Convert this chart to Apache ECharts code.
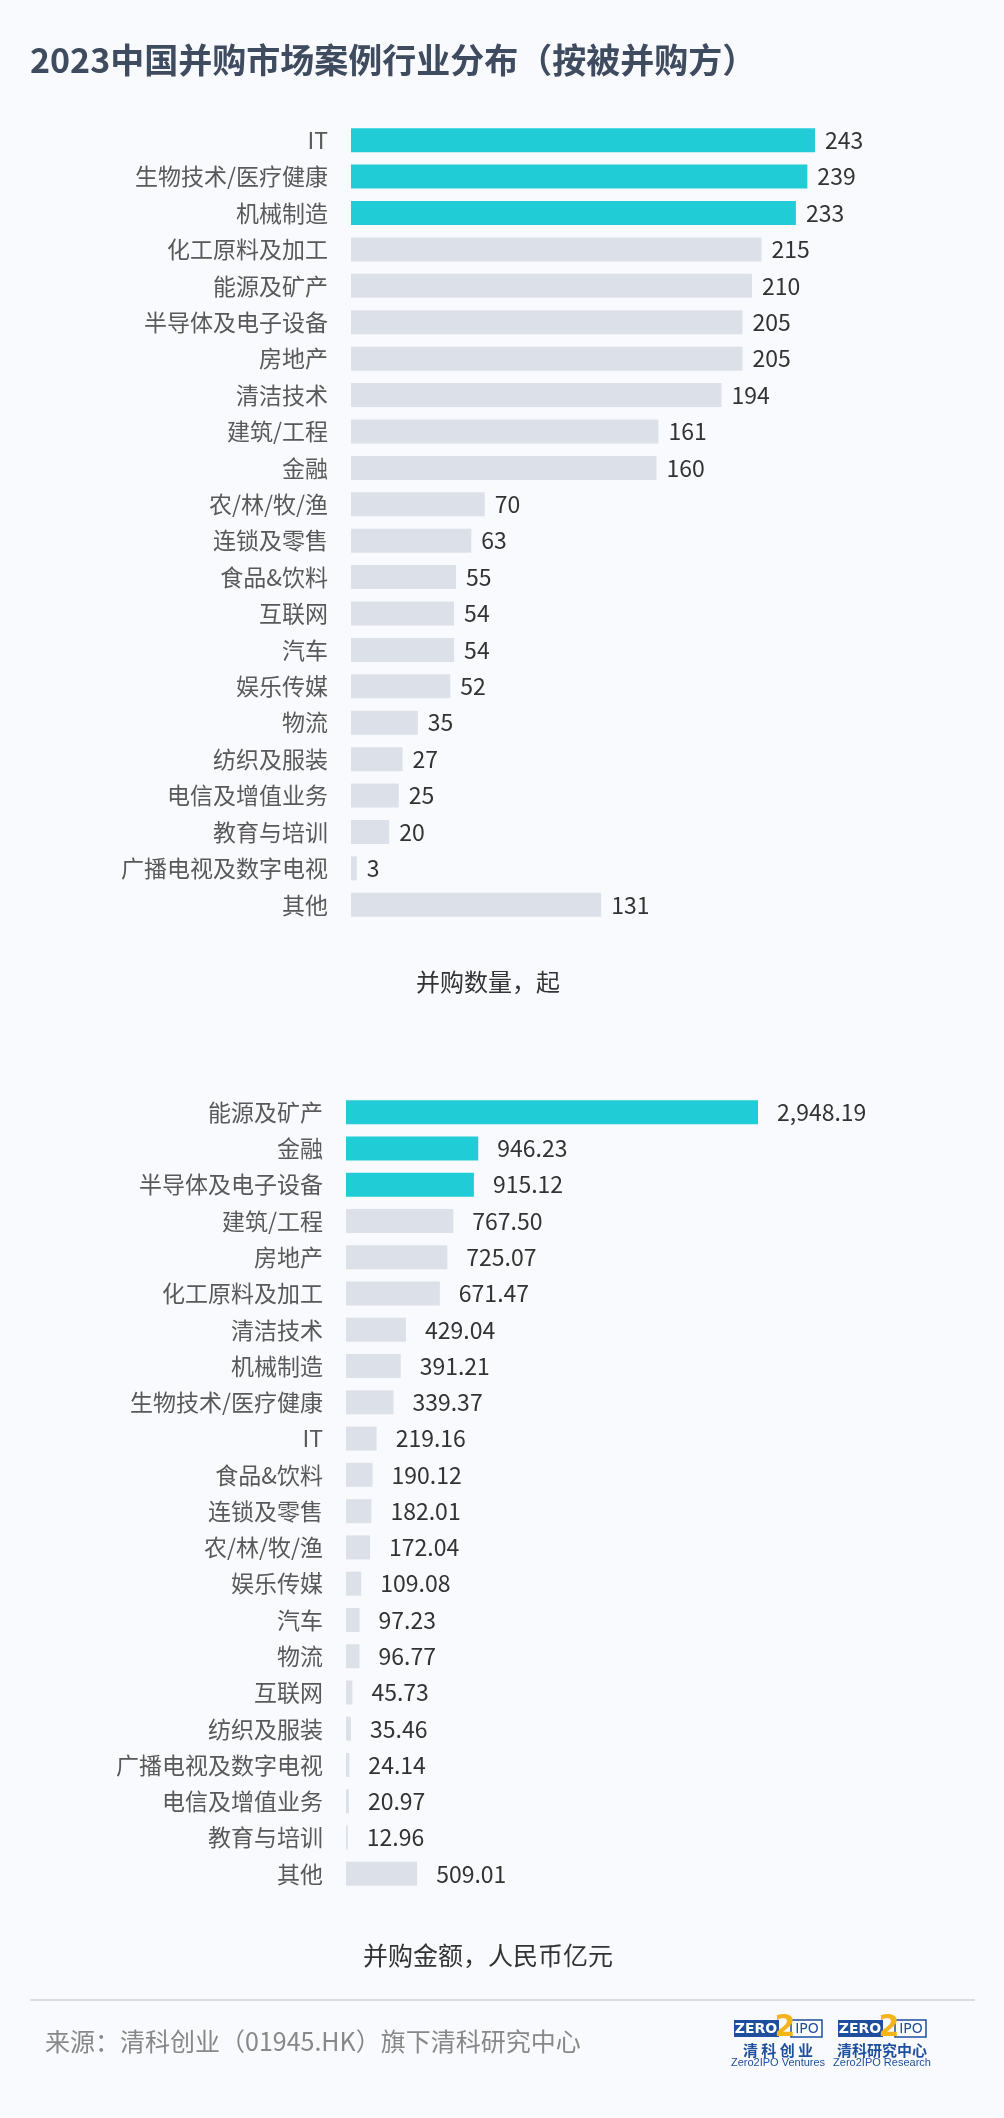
<!DOCTYPE html>
<html>
<head>
<meta charset="utf-8">
<script src="https://cdn.jsdelivr.net/npm/echarts@6/dist/echarts.min.js"></script>
<style>
html,body{margin:0;padding:0;background:#F9FAFD;}
#c{width:1004px;height:2118px;}
</style>
</head>
<body>
<div id="c"></div>
<script>
const titleText = '2023中国并购市场案例行业分布（按被并购方）';
const categories1 = ['IT','生物技术/医疗健康','机械制造','化工原料及加工','能源及矿产','半导体及电子设备','房地产','清洁技术','建筑/工程','金融','农/林/牧/渔','连锁及零售','食品&饮料','互联网','汽车','娱乐传媒','物流','纺织及服装','电信及增值业务','教育与培训','广播电视及数字电视','其他'];
const values1 = [243,239,233,215,210,205,205,194,161,160,70,63,55,54,54,52,35,27,25,20,3,131];
const axisName1 = '并购数量，起';
const categories2 = ['能源及矿产','金融','半导体及电子设备','建筑/工程','房地产','化工原料及加工','清洁技术','机械制造','生物技术/医疗健康','IT','食品&饮料','连锁及零售','农/林/牧/渔','娱乐传媒','汽车','物流','互联网','纺织及服装','广播电视及数字电视','电信及增值业务','教育与培训','其他'];
const values2 = [2948.19,946.23,915.12,767.50,725.07,671.47,429.04,391.21,339.37,219.16,190.12,182.01,172.04,109.08,97.23,96.77,45.73,35.46,24.14,20.97,12.96,509.01];
const axisName2 = '并购金额，人民币亿元';
const highlightCount = 3;
const sourceText = '来源：清科创业（01945.HK）旗下清科研究中心';

const FONT = '"Noto Sans CJK SC","Noto Sans",sans-serif';
const HL = '#20CDD6', GREY = '#DCE0E8', BLUE = '#1D4F9E', YEL = '#F4B41A';
const fmt2 = v => v.toLocaleString('en-US',{minimumFractionDigits:2, maximumFractionDigits:2});

function logo(x, cn, en){
  return {
    type:'group', x:x, y:2018,
    children:[
      {type:'rect', shape:{x:0,y:2,width:45,height:17}, style:{fill:BLUE}},
      {type:'text', style:{x:22,y:11,text:'ZERO',fill:'#fff',font:'bold 14px "DejaVu Sans",sans-serif',align:'center',verticalAlign:'middle'}},
      {type:'rect', shape:{x:57,y:2,width:31,height:17}, style:{fill:'#fff',stroke:BLUE,lineWidth:1.5}},
      {type:'text', style:{x:73,y:11,text:'IPO',fill:BLUE,font:'14px "DejaVu Sans",sans-serif',align:'center',verticalAlign:'middle'}},
      {type:'text', style:{x:51,y:10,text:'2',fill:YEL,font:'bold 30px "DejaVu Sans",sans-serif',align:'center',verticalAlign:'middle'}},
      {type:'text', style:{x:44,y:32,text:cn,fill:BLUE,font:'bold 15px "Noto Sans CJK SC",sans-serif',align:'center',verticalAlign:'middle'}},
      {type:'text', style:{x:44,y:45,text:en,fill:BLUE,font:'11px "Liberation Sans",sans-serif',align:'center',verticalAlign:'middle'}}
    ]
  };
}

const chart = echarts.init(document.getElementById('c'), null, {renderer:'canvas'});
function yAx(cats, gi){
  return {
    type:'category', gridIndex:gi, data:cats, inverse:true,
    axisLine:{show:false}, axisTick:{show:false}, splitLine:{show:false},
    axisLabel:{color:'#595959', fontSize:23, fontFamily:FONT, margin:23}
  };
}
function xAx(gi){
  return {type:'value', gridIndex:gi, min:0, max:'dataMax', show:false, splitLine:{show:false}};
}
function ser(vals, gi, dist, formatter){
  return {
    type:'bar', xAxisIndex:gi, yAxisIndex:gi, data:vals, barWidth:24, barMinHeight:1,
    itemStyle:{color: p => p.dataIndex < highlightCount ? HL : GREY},
    label:{show:true, position:'right', distance:dist, color:'#333', fontSize:23, fontFamily:FONT, formatter:formatter},
    silent:true, animation:false
  };
}
chart.setOption({
  backgroundColor:'#F9FAFD',
  animation:false,
  grid:[
    {left:351, top:122, width:464, height:801},
    {left:346, top:1094, width:412, height:798}
  ],
  xAxis:[xAx(0), xAx(1)],
  yAxis:[yAx(categories1,0), yAx(categories2,1)],
  series:[
    ser(values1, 0, 10, p => String(p.value)),
    ser(values2, 1, 19, p => fmt2(p.value))
  ],
  graphic:[
    {type:'text', style:{x:30, y:60, text:titleText, fill:'#3F4B5E', font:'bold 34px '+FONT, verticalAlign:'middle'}},
    {type:'text', style:{x:488, y:982, text:axisName1, fill:'#333', font:'24px '+FONT, align:'center', verticalAlign:'middle'}},
    {type:'text', style:{x:488, y:1955, text:axisName2, fill:'#333', font:'25px '+FONT, align:'center', verticalAlign:'middle'}},
    {type:'line', shape:{x1:30,y1:2000,x2:975,y2:2000}, style:{stroke:'#D3D0D4', lineWidth:1.5}},
    {type:'text', style:{x:45, y:2041, text:sourceText, fill:'#888', font:'25px '+FONT, verticalAlign:'middle'}},
    logo(734, '清 科 创 业', 'Zero2IPO Ventures'),
    logo(838, '清科研究中心', 'Zero2IPO Research')
  ]
});
</script>
</body>
</html>
